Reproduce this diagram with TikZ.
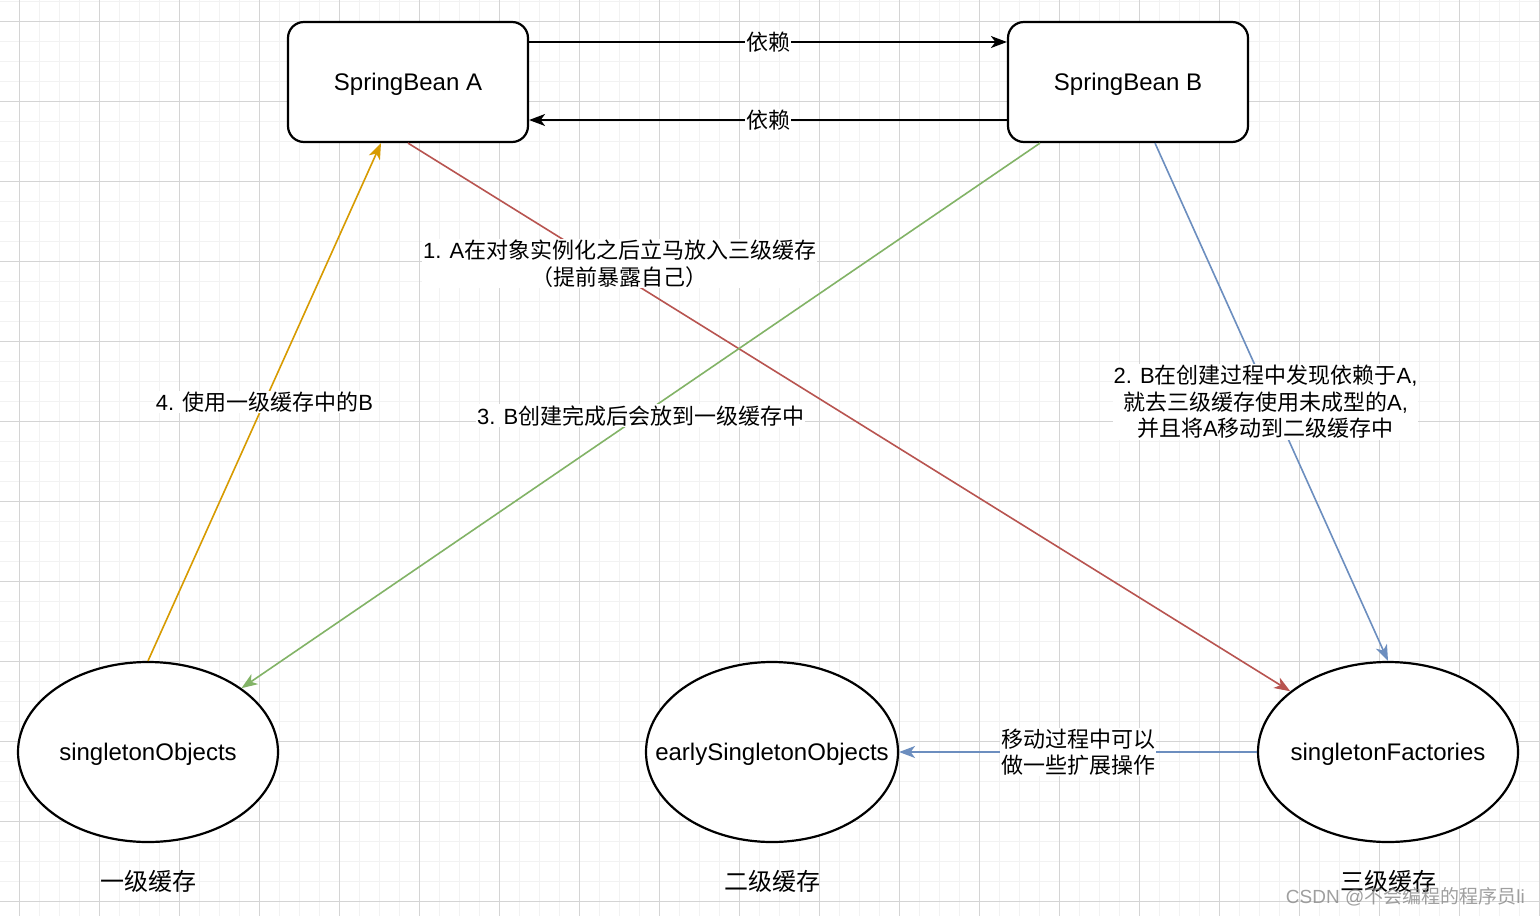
\documentclass[tikz,border=0pt]{standalone}
\usepackage{fontspec}
\setmainfont{Liberation Sans}
\newfontfamily\cjk{Noto Sans CJK SC}
\usetikzlibrary{arrows.meta,shapes.geometric,calc}
\newcommand{\zh}[1]{{\cjk #1}}
\newcommand{\lowtext}[1]{\raisebox{-2.5pt}[\height][\depth]{#1}}
\definecolor{gridminor}{HTML}{F2F2F2}
\definecolor{gridmajor}{HTML}{D4D4D4}
\definecolor{dred}{HTML}{B85450}
\definecolor{dgreen}{HTML}{82B366}
\definecolor{dblue}{HTML}{6C8EBF}
\definecolor{dorange}{HTML}{D79B00}
\tikzset{
  beanbox/.style={draw=black, line width=2.2pt, rounded corners=16pt, fill=white,
    minimum width=240pt, minimum height=120pt, font=\fontsize{24}{28}\selectfont},
  cachenode/.style={ellipse, draw=black, line width=2.2pt, fill=white,
    minimum height=180pt, inner sep=0pt, font=\fontsize{24}{28}\selectfont},
  levellabel/.style={font=\fontsize{24}{28}\selectfont\cjk, inner sep=0pt},
  conn/.style={line width=1.6pt, -{Stealth[length=16pt,width=12pt,inset=4.5pt]}},
  elabel/.style={fill=white, inner sep=1pt, align=center, font=\fontsize{22}{26.4}\selectfont, text=black},
}
\begin{document}
\begin{tikzpicture}[x=1pt,y=-1pt]
\useasboundingbox (0,0) rectangle (1540,916);
\fill[white] (0,0) rectangle (1540,916);
% grid
\foreach \k in {-1,...,76} {
  \draw[gridminor, line width=1pt] ({19+20*\k},0) -- ({19+20*\k},916);
}
\foreach \k in {-1,...,45} {
  \draw[gridminor, line width=1pt] (0,{21+20*\k}) -- (1540,{21+20*\k});
}
\foreach \k in {0,...,19} {
  \draw[gridmajor, line width=1pt] ({19+80*\k},0) -- ({19+80*\k},916);
}
\foreach \k in {0,...,11} {
  \draw[gridmajor, line width=1pt] (0,{21+80*\k}) -- (1540,{21+80*\k});
}

% nodes
\node[beanbox] (A) at (408,82) {\lowtext{SpringBean A}};
\node[beanbox] (B) at (1128,82) {\lowtext{SpringBean B}};
\node[cachenode, minimum width=260pt] (SO) at (148,752) {\makebox[0pt]{\lowtext{singletonObjects}}};
\node[cachenode, minimum width=252pt] (ES) at (772,752) {\makebox[0pt]{\lowtext{earlySingletonObjects}}};
\node[cachenode, minimum width=260pt] (SF) at (1388,752) {\makebox[0pt]{\lowtext{singletonFactories}}};

\node[levellabel] (L1) at (148,881) {一级缓存};
\node[levellabel] (L2) at (772,881) {二级缓存};
\node[levellabel] (L3) at (1388,881) {三级缓存};

% connectors
\draw[conn, black] ([yshift=40pt]A.east) -- node[elabel, pos=0.5] {\zh{依赖}} ([yshift=40pt]B.west);
\draw[conn, black] ([yshift=-38pt]B.west) -- node[elabel, pos=0.5] {\zh{依赖}} ([yshift=-38pt]A.east);

\draw[conn, dred] (A.south) -- node[elabel, pos=0.24, yshift=11pt] {1. A\zh{在对象实例化之后立马放入三级缓存}\\\zh{（提前暴露自己）}} (SF);

\draw[conn, dblue] ([xshift=27pt]B.south) -- node[elabel, pos=0.5, xshift=-6pt] {2. B\zh{在创建过程中发现依赖于}A,\\\zh{就去三级缓存使用未成型的}A,\\\zh{并且将}A\zh{移动到二级缓存中}} (SF.north);

\draw[conn, dgreen] ([xshift=-88pt]B.south) -- node[elabel, pos=0.5] {3. B\zh{创建完成后会放到一级缓存中}} (SO);

\draw[conn, dorange] (SO.north) -- node[elabel, pos=0.5] {4. \zh{使用一级缓存中的}B} ([xshift=-27pt]A.south);

\draw[conn, dblue] (SF.west) -- node[elabel, pos=0.5] {\zh{移动过程中可以}\\\zh{做一些扩展操作}} (ES.east);

% watermark
\node[anchor=east, inner sep=0pt, text=gray, opacity=0.75, font=\fontsize{19}{22}\selectfont] (WM) at (1525,897) {CSDN @\zh{不会编程的程序员}li};
\end{tikzpicture}
\end{document}
